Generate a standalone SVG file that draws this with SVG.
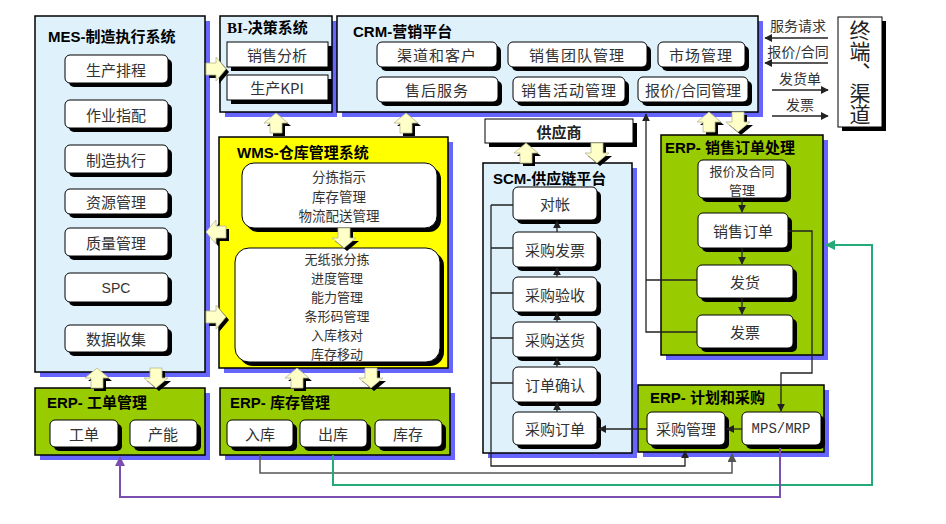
<svg xmlns="http://www.w3.org/2000/svg" xmlns:xlink="http://www.w3.org/1999/xlink" width="946" height="524" viewBox="0 0 946 524">
<style>
.pan{stroke:#000;stroke-width:1.5}
.blue{fill:#dff1fb}
.green{fill:#99cc00}
.yel{fill:#ffff00}
.psh{fill:#6666ff}
.box{fill:#fff;stroke:#000;stroke-width:1}
.bsh{fill:#000}
.t{font-family:"Noto Sans CJK SC",sans-serif;font-size:15px;fill:#333;text-anchor:middle;dominant-baseline:central}
.ml{font-size:13px}
.ti{font-family:"Liberation Sans","Noto Sans CJK SC",sans-serif;font-weight:bold;font-size:15px;fill:#000}
.af{fill:#ffffc8;stroke:#b8b890;stroke-width:0.8}
.ash{fill:#000}
.ln{fill:none;stroke:#222;stroke-width:1.3}
.vt{font-family:"Noto Sans CJK SC",sans-serif;font-size:21px;fill:#222;text-anchor:middle;writing-mode:vertical-rl}
</style>
<defs>
<path id="ap" d="M0,-10 L12,0 L6,0 L6,10 L-6,10 L-6,0 L-12,0 Z"/>
<marker id="ah" viewBox="0 0 10 10" refX="9" refY="5" markerWidth="6" markerHeight="6" orient="auto-start-reverse"><path d="M0,0 L10,5 L0,10 Z" fill="#222"/></marker>
<marker id="ahg" viewBox="0 0 10 10" refX="9" refY="5" markerWidth="5" markerHeight="5" orient="auto"><path d="M0,0 L10,5 L0,10 Z" fill="#22aa77"/></marker>
<marker id="ahp" viewBox="0 0 10 10" refX="9" refY="5" markerWidth="5" markerHeight="5" orient="auto"><path d="M0,0 L10,5 L0,10 Z" fill="#7a4fb0"/></marker>
<marker id="ahy" viewBox="0 0 10 10" refX="9" refY="5" markerWidth="6" markerHeight="6" orient="auto"><path d="M0,0 L10,5 L0,10 Z" fill="#555"/></marker>
</defs>
<rect width="946" height="524" fill="#fff"/>

<g id="mes">
<rect class="psh" x="40" y="21" width="170" height="356"/>
<rect class="pan blue" x="35" y="16" width="170" height="356"/>
<text class="ti" x="48" y="42">MES-制造执行系统</text>
<rect class="bsh" x="69" y="59" width="103" height="28" rx="5"/><rect class="box" x="65" y="55" width="103" height="28" rx="5"/><text class="t" x="116" y="69">生产排程</text>
<rect class="bsh" x="69" y="104" width="103" height="28" rx="5"/><rect class="box" x="65" y="100" width="103" height="28" rx="5"/><text class="t" x="116" y="114">作业指配</text>
<rect class="bsh" x="69" y="149" width="103" height="28" rx="5"/><rect class="box" x="65" y="145" width="103" height="28" rx="5"/><text class="t" x="116" y="159">制造执行</text>
<rect class="bsh" x="69" y="193" width="103" height="25" rx="5"/><rect class="box" x="65" y="189" width="103" height="25" rx="5"/><text class="t" x="116" y="201.5">资源管理</text>
<rect class="bsh" x="69" y="232" width="103" height="28" rx="5"/><rect class="box" x="65" y="228" width="103" height="28" rx="5"/><text class="t" x="116" y="242">质量管理</text>
<rect class="bsh" x="69" y="277" width="103" height="29" rx="5"/><rect class="box" x="65" y="273" width="103" height="29" rx="5"/><text class="t" x="116" y="287.5" style="font-family:'Liberation Sans',sans-serif;font-size:14px">SPC</text>
<rect class="bsh" x="69" y="329" width="103" height="27" rx="5"/><rect class="box" x="65" y="325" width="103" height="27" rx="5"/><text class="t" x="116" y="338.5">数据收集</text>
</g>

<g id="bi">
<rect class="psh" x="225" y="21" width="112" height="96"/>
<rect class="pan blue" x="220" y="16" width="112" height="96"/>
<text class="ti" x="227" y="33" style="font-family:'Liberation Serif','Noto Sans CJK SC',serif">BI-决策系统</text>
<rect class="bsh" x="231" y="46" width="101" height="25"/><rect class="box" x="227" y="42" width="101" height="25"/><text class="t" x="277" y="54.5">销售分析</text>
<rect class="bsh" x="231" y="79" width="101" height="25"/><rect class="box" x="227" y="75" width="101" height="25"/><text class="t" x="277" y="87.5">生产KPI</text>
</g>

<g id="crm">
<rect class="psh" x="342" y="21" width="421" height="96"/>
<rect class="pan blue" x="337" y="16" width="421" height="96"/>
<text class="ti" x="353" y="37">CRM-营销平台</text>
<rect class="bsh" x="381" y="46" width="120" height="25" rx="5"/><rect class="box" x="377" y="42" width="120" height="25" rx="5"/><text class="t" x="437" y="54.5" letter-spacing="1">渠道和客户</text>
<rect class="bsh" x="512" y="46" width="139" height="25" rx="5"/><rect class="box" x="508" y="42" width="139" height="25" rx="5"/><text class="t" x="577" y="54.5" letter-spacing="1">销售团队管理</text>
<rect class="bsh" x="662" y="46" width="87" height="25" rx="5"/><rect class="box" x="658" y="42" width="87" height="25" rx="5"/><text class="t" x="701" y="54.5" letter-spacing="1">市场管理</text>
<rect class="bsh" x="381" y="81" width="121" height="25" rx="5"/><rect class="box" x="377" y="77" width="121" height="25" rx="5"/><text class="t" x="437" y="89.5" letter-spacing="1">售后服务</text>
<rect class="bsh" x="517" y="81" width="112" height="25" rx="5"/><rect class="box" x="513" y="77" width="112" height="25" rx="5"/><text class="t" x="569" y="89.5" letter-spacing="1">销售活动管理</text>
<rect class="bsh" x="642" y="81" width="110" height="25" rx="5"/><rect class="box" x="638" y="77" width="110" height="25" rx="5"/><text class="t" x="693" y="89.5">报价/合同管理</text>
</g>

<g id="terminal">
<rect class="bsh" x="842" y="21" width="44" height="110"/>
<rect class="box" x="838" y="17" width="44" height="110"/>
<text class="vt" x="860" y="72">终端、渠道</text>
</g>

<g id="wms">
<rect class="psh" x="224" y="142" width="229" height="231"/>
<rect class="pan yel" x="219" y="137" width="229" height="231"/>
<text class="ti" x="237" y="158">WMS-仓库管理系统</text>
<rect class="bsh" x="246" y="167" width="195" height="65" rx="12"/><rect class="box" x="242" y="163" width="195" height="65" rx="12"/>
<text class="t" x="339" y="176" style="font-size:13.5px"><tspan x="339" y="176">分拣指示</tspan><tspan x="339" y="195.7">库存管理</tspan><tspan x="339" y="215.4">物流配送管理</tspan></text>
<rect class="bsh" x="239" y="252" width="205" height="114" rx="14"/><rect class="box" x="235" y="248" width="205" height="114" rx="14"/>
<text class="t ml" x="337" y="258"><tspan x="337" y="258">无纸张分拣</tspan><tspan x="337" y="276.9">进度管理</tspan><tspan x="337" y="295.8">能力管理</tspan><tspan x="337" y="314.7">条形码管理</tspan><tspan x="337" y="333.6">入库核对</tspan><tspan x="337" y="352.5">库存移动</tspan></text>
</g>

<g id="supplier">
<rect class="bsh" x="489" y="123" width="148" height="24"/>
<rect class="box" x="485" y="119" width="148" height="24"/>
<text class="t" x="559" y="131" style="font-weight:bold;fill:#222">供应商</text>
</g>

<g id="scm">
<rect class="psh" x="488" y="168" width="149" height="290"/>
<rect class="pan blue" x="483" y="163" width="149" height="290"/>
<text class="ti" x="493" y="184">SCM-供应链平台</text>
<rect class="bsh" x="517" y="191" width="84" height="33" rx="5"/><rect class="box" x="513" y="187" width="84" height="33" rx="5"/><text class="t" x="555" y="203.5">对帐</text>
<rect class="bsh" x="517" y="236" width="84" height="35" rx="5"/><rect class="box" x="513" y="232" width="84" height="35" rx="5"/><text class="t" x="555" y="249.5">采购发票</text>
<rect class="bsh" x="517" y="281" width="84" height="35" rx="5"/><rect class="box" x="513" y="277" width="84" height="35" rx="5"/><text class="t" x="555" y="294.5">采购验收</text>
<rect class="bsh" x="517" y="326" width="84" height="35" rx="5"/><rect class="box" x="513" y="322" width="84" height="35" rx="5"/><text class="t" x="555" y="339.5">采购送货</text>
<rect class="bsh" x="517" y="371" width="84" height="35" rx="5"/><rect class="box" x="513" y="367" width="84" height="35" rx="5"/><text class="t" x="555" y="384.5">订单确认</text>
<rect class="bsh" x="517" y="416" width="84" height="33" rx="5"/><rect class="box" x="513" y="412" width="84" height="33" rx="5"/><text class="t" x="555" y="428.5">采购订单</text>
</g>

<g id="erp-sales">
<rect class="psh" x="666" y="140" width="162" height="220"/>
<rect class="pan green" x="661" y="135" width="162" height="220"/>
<text class="ti" x="665" y="153">ERP- 销售订单处理</text>
<rect class="bsh" x="702" y="164" width="89" height="38" rx="5"/><rect class="box" x="698" y="160" width="89" height="38" rx="5"/><text class="t ml" x="742" y="169.5"><tspan x="742" y="169.5">报价及合同</tspan><tspan x="742" y="188.5">管理</tspan></text>
<rect class="bsh" x="702" y="217" width="90" height="35" rx="5"/><rect class="box" x="698" y="213" width="90" height="35" rx="5"/><text class="t" x="743" y="230.5">销售订单</text>
<rect class="bsh" x="701" y="269" width="96" height="33" rx="5"/><rect class="box" x="697" y="265" width="96" height="33" rx="5"/><text class="t" x="745" y="281.5">发货</text>
<rect class="bsh" x="701" y="319" width="96" height="33" rx="5"/><rect class="box" x="697" y="315" width="96" height="33" rx="5"/><text class="t" x="745" y="331.5">发票</text>
</g>

<g id="erp-workorder">
<rect class="psh" x="40" y="393" width="170" height="67"/>
<rect class="pan green" x="35" y="388" width="170" height="67"/>
<text class="ti" x="47" y="408">ERP- 工单管理</text>
<rect class="bsh" x="54" y="424" width="68" height="27" rx="5"/><rect class="box" x="50" y="420" width="68" height="27" rx="5"/><text class="t" x="84" y="433.5">工单</text>
<rect class="bsh" x="134" y="424" width="67" height="27" rx="5"/><rect class="box" x="130" y="420" width="67" height="27" rx="5"/><text class="t" x="163" y="433.5">产能</text>
</g>

<g id="erp-inventory">
<rect class="psh" x="225" y="393" width="230" height="67"/>
<rect class="pan green" x="220" y="388" width="230" height="67"/>
<text class="ti" x="230" y="408">ERP- 库存管理</text>
<rect class="bsh" x="231" y="424" width="66" height="27" rx="5"/><rect class="box" x="227" y="420" width="66" height="27" rx="5"/><text class="t" x="260" y="433.5">入库</text>
<rect class="bsh" x="304" y="424" width="67" height="27" rx="5"/><rect class="box" x="300" y="420" width="67" height="27" rx="5"/><text class="t" x="333" y="433.5">出库</text>
<rect class="bsh" x="379" y="424" width="67" height="27" rx="5"/><rect class="box" x="375" y="420" width="67" height="27" rx="5"/><text class="t" x="408" y="433.5">库存</text>
</g>

<g id="erp-plan">
<rect class="psh" x="643" y="390" width="186" height="67"/>
<rect class="pan green" x="638" y="385" width="186" height="67"/>
<text class="ti" x="650" y="403">ERP- 计划和采购</text>
<rect class="bsh" x="651" y="416" width="78" height="33" rx="5"/><rect class="box" x="647" y="412" width="78" height="33" rx="5"/><text class="t" x="686" y="428.5">采购管理</text>
<rect class="bsh" x="746" y="416" width="79" height="33" rx="5"/><rect class="box" x="742" y="412" width="79" height="33" rx="5"/><text class="t" x="781" y="428.5" style="font-family:'Liberation Mono',monospace;font-size:14px">MPS/MRP</text>
</g>

<g id="connectors">
<use xlink:href="#ap" class="ash" transform="translate(219,72) rotate(90)"/><use xlink:href="#ap" class="af" transform="translate(216,69) rotate(90)"/>
<use xlink:href="#ap" class="ash" transform="translate(219,235) rotate(-90)"/><use xlink:href="#ap" class="af" transform="translate(216,232) rotate(-90)"/>
<use xlink:href="#ap" class="ash" transform="translate(219,320) rotate(90)"/><use xlink:href="#ap" class="af" transform="translate(216,317) rotate(90)"/>
<use xlink:href="#ap" class="ash" transform="translate(279,126)"/><use xlink:href="#ap" class="af" transform="translate(276,123)"/>
<use xlink:href="#ap" class="ash" transform="translate(409,126)"/><use xlink:href="#ap" class="af" transform="translate(406,123)"/>
<use xlink:href="#ap" class="ash" transform="translate(529,156)"/><use xlink:href="#ap" class="af" transform="translate(526,153)"/>
<use xlink:href="#ap" class="ash" transform="translate(600,156) rotate(180)"/><use xlink:href="#ap" class="af" transform="translate(597,153) rotate(180)"/>
<use xlink:href="#ap" class="ash" transform="translate(712,125)"/><use xlink:href="#ap" class="af" transform="translate(709,122)"/>
<use xlink:href="#ap" class="ash" transform="translate(741,125) rotate(180)"/><use xlink:href="#ap" class="af" transform="translate(738,122) rotate(180)"/>
<use xlink:href="#ap" class="ash" transform="translate(100,381)"/><use xlink:href="#ap" class="af" transform="translate(97,378)"/>
<use xlink:href="#ap" class="ash" transform="translate(159,381) rotate(180)"/><use xlink:href="#ap" class="af" transform="translate(156,378) rotate(180)"/>
<use xlink:href="#ap" class="ash" transform="translate(300,381)"/><use xlink:href="#ap" class="af" transform="translate(297,378)"/>
<use xlink:href="#ap" class="ash" transform="translate(374,381) rotate(180)"/><use xlink:href="#ap" class="af" transform="translate(371,378) rotate(180)"/>
<use xlink:href="#ap" class="ash" transform="translate(347,241) rotate(180)"/><use xlink:href="#ap" class="af" transform="translate(344,238) rotate(180)"/>

<text class="t" x="798" y="25" style="font-size:14px">服务请求</text>
<line class="ln" x1="828" y1="38" x2="765" y2="38" marker-end="url(#ah)"/>
<text class="t" x="798" y="51" style="font-size:14px">报价/合同</text>
<line class="ln" x1="828" y1="63" x2="765" y2="63" marker-end="url(#ah)"/>
<text class="t" x="800" y="78" style="font-size:14px">发货单</text>
<line class="ln" x1="772" y1="90" x2="828" y2="90" marker-end="url(#ah)"/>
<text class="t" x="800" y="104" style="font-size:14px">发票</text>
<line class="ln" x1="772" y1="116" x2="828" y2="116" marker-end="url(#ah)"/>

<line class="ln" x1="557" y1="412" x2="557" y2="403" marker-end="url(#ah)"/>
<line class="ln" x1="557" y1="367" x2="557" y2="358" marker-end="url(#ah)"/>
<line class="ln" x1="557" y1="322" x2="557" y2="313" marker-end="url(#ah)"/>
<line class="ln" x1="557" y1="277" x2="557" y2="268" marker-end="url(#ah)"/>
<line class="ln" x1="557" y1="232" x2="557" y2="221" marker-end="url(#ah)"/>
<path class="ln" d="M491,205 V466 H685 V451" marker-end="url(#ah)"/>
<path class="ln" d="M491,205 H513 M491,248 H513 M491,293 H513 M491,338 H513 M491,383 H513"/>

<line class="ln" x1="742" y1="198" x2="742" y2="212" marker-end="url(#ah)"/>
<line class="ln" x1="742" y1="248" x2="742" y2="264" marker-end="url(#ah)"/>
<line class="ln" x1="742" y1="298" x2="742" y2="314" marker-end="url(#ah)"/>
<path class="ln" d="M697,332 H646 V114" marker-end="url(#ah)"/>
<path class="ln" d="M697,280 H646"/>
<path class="ln" d="M788,231 H812 V373 H781 V411" marker-end="url(#ah)"/>

<line class="ln" x1="742" y1="429" x2="727" y2="429" stroke-width="2" marker-end="url(#ah)"/>
<line class="ln" x1="647" y1="429" x2="599" y2="429" stroke-width="2" marker-end="url(#ah)"/>

<path d="M260,455 V473 H732 V454" fill="none" stroke="#555" stroke-width="1.5" marker-end="url(#ahy)"/>
<path d="M333,455 V485 H872 V245 H826" fill="none" stroke="#22aa77" stroke-width="2" marker-end="url(#ahg)"/>
<path d="M780,448 V497 H120 V457" fill="none" stroke="#7a4fb0" stroke-width="2" marker-end="url(#ahp)"/>
</g>
</svg>
